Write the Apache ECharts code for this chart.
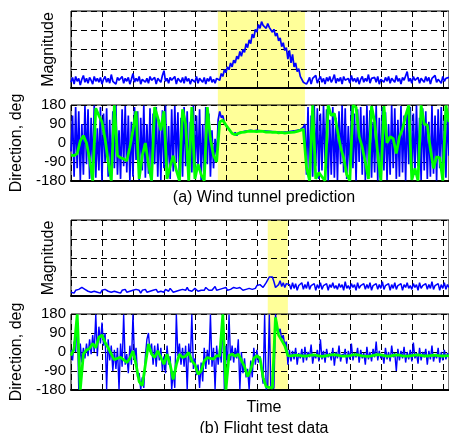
<!DOCTYPE html>
<html>
<head>
<meta charset="utf-8">
<script src="https://cdn.jsdelivr.net/npm/echarts@6/dist/echarts.min.js"></script>
<style>
html, body { margin: 0; padding: 0; background: #fff; }
#chart { width: 449px; height: 433px; }
</style>
</head>
<body>
<div id="chart"></div>
<script>
// time axis: 12 grid divisions, raw traces every 0.05, filtered traces every 0.1
const DT_RAW = 0.05;
const DT_FILT = 0.1;
const tMax = 12.2;

// (a) wind tunnel prediction
const magA = [
  0.3,0.55,0.2,0.6,0.35,0.5,0.15,0.45,0.65,0.3,
  0.5,0.25,0.55,0.4,0.2,0.6,0.35,0.5,0.3,0.55,
  0.2,0.45,0.6,0.3,0.5,0.25,0.7,0.35,0.45,0.2,
  0.55,0.4,0.3,0.6,0.25,0.5,0.35,0.55,0.2,0.45,
  0.75,0.3,0.5,0.35,0.6,0.2,0.45,0.55,0.3,0.5,
  0.25,0.6,0.4,0.3,0.55,0.2,0.5,0.45,0.3,0.65,
  0.9,0.35,0.5,0.25,0.55,0.4,0.3,0.6,0.2,0.5,
  0.45,0.3,0.55,0.25,0.6,0.35,0.5,0.2,0.45,0.55,
  0.3,0.6,0.25,0.5,0.4,0.3,0.55,0.2,0.5,0.35,
  0.6,0.3,0.45,0.25,0.5,
  0.55,0.4,0.75,0.6,0.95,0.8,1.1,0.95,1.3,1.1,
  1.45,1.3,1.65,1.5,1.9,1.65,2.0,1.85,2.3,2.1,
  2.5,2.3,2.8,2.6,3.05,2.9,3.3,3.1,3.45,3.25,
  3.35,3.1,3.35,3.15,3.2,2.9,3.05,2.7,2.85,2.45,
  2.6,2.15,2.35,1.95,2.1,1.5,1.95,1.3,1.75,1.1,
  1.3,0.85,1.0,0.6,0.7,0.3,0.4,0.2,
  0.35,0.55,0.2,0.5,0.4,0.65,0.25,0.45,0.6,0.3,
  0.5,0.2,0.55,0.35,0.6,0.3,0.45,0.7,0.25,0.5,
  0.35,0.55,0.2,0.6,0.4,0.3,0.5,0.25,0.65,0.35,
  0.5,0.3,0.55,0.2,0.45,0.6,0.3,0.5,0.35,0.7,
  0.25,0.5,0.4,0.55,0.3,0.6,0.2,0.45,0.5,0.3,
  0.55,0.35,0.6,0.25,0.5,0.4,0.3,0.65,0.35,0.5,
  0.2,0.55,0.4,0.3,0.85,0.35,0.5,0.25,0.6,0.4,
  0.3,0.55,0.25,0.5,0.45,0.3,0.6,0.35,0.55,0.2,
  0.5,0.4,0.65,0.3,0.45,0.55,0.25,0.6,0.35,0.5,
  0.4,0.55
];
const dirA = [
  -40,130,-160,170,-120,150,-175,90,-150,175,
  -100,160,-170,120,-140,178,-165,70,-130,170,
  -178,140,-90,165,-160,110,-175,150,-120,178,
  -150,60,-170,160,-110,175,-140,130,-178,100,
  -160,170,-80,150,-175,120,-130,178,-165,90,
  -145,165,-178,140,-100,170,-160,110,-175,155,
  -120,178,-150,80,-170,160,-135,175,-90,145,
  -178,120,-160,170,-110,150,-175,100,-140,178,
  -165,130,-120,160,-175,90,-150,170,-100,140,
  -160,60,-120,20,-70,
  110,150,120,130,95,100,75,80,55,60,
  40,50,35,48,40,52,45,55,50,58,
  52,60,54,58,52,60,53,58,52,57,
  50,56,49,55,48,54,47,53,46,52,
  45,51,44,52,46,53,47,55,49,57,
  52,60,55,63,58,75,90,-150,
  170,-175,130,-160,178,-110,165,-170,140,-130,
  175,-90,160,-178,110,-150,170,-165,120,-175,
  150,-100,178,-140,165,-170,80,-160,175,-120,
  140,-178,160,-90,170,-150,130,-175,178,-110,
  155,-165,100,-140,175,-178,120,-160,170,-130,
  145,-175,90,-150,178,-120,165,-170,110,-160,
  175,-140,130,-178,160,-100,170,-165,140,-150,
  178,-110,120,-175,165,-130,150,-170,100,-160,
  175,-145,130,-178,160,-120,170,-150,110,-165,
  140,-60
];
const dirAFiltered = [
  -57,-60,-50,10,35,0,-75,-178,165,130,
  100,20,-90,-178,178,-60,-70,-75,-85,-20,
  60,150,-170,-60,0,-100,-178,170,120,60,
  150,-170,-110,-60,-130,-178,160,90,-178,170,
  -170,-100,-150,-178,170,20,-60,-90,
  100,108,85,65,45,40,45,50,52,55,56,55,54,56,55,52,53,50,51,48,50,47,49,50,52,55,60,65,
  -115,-178,178,-170,-140,-160,-178,178,130,140,
  60,-20,-70,-150,-178,178,170,30,-20,-90,
  -170,175,100,-50,-178,175,0,30,20,-50,
  30,65,130,178,-175,-120,-178,178,90,85,
  -30,-120,-65,-70,-178,178,100
];

// (b) flight test data
const magB = [
  0.2,0.3,0.15,0.3,0.25,0.35,0.3,0.45,0.5,0.35,
  0.4,0.25,0.35,0.2,0.3,0.25,0.35,0.2,0.3,0.15,
  0.3,0.2,0.35,0.4,0.25,0.3,0.2,0.3,0.25,0.35,
  0.2,0.3,0.15,0.3,0.25,0.35,0.2,0.3,0.25,0.2,
  0.3,0.2,0.35,0.25,0.3,0.15,0.3,0.25,0.35,0.2,
  0.3,0.25,0.2,0.3,0.25,0.35,0.2,0.3,0.25,0.3,
  0.2,0.35,0.3,0.25,0.4,0.3,0.2,0.3,0.25,0.35,
  0.3,0.25,0.35,0.4,0.3,0.45,0.3,0.35,0.25,0.3,
  0.4,0.3,0.25,0.35,0.3,0.4,0.3,0.45,0.35,0.3,
  0.4,0.3,0.35,0.5,0.3,0.4,0.35,0.3,0.4,0.35,
  0.45,0.3,0.4,0.35,0.3,0.45,0.35,0.4,0.3,0.45,
  0.35,0.3,0.4,0.35,0.45,0.4,0.5,0.35,0.45,0.4,
  0.55,0.45,0.6,0.5,0.45,
  0.5,0.7,0.85,1.0,0.9,1.0,0.75,0.45,0.35,0.6,0.8,0.5,0.7,0.45,0.65,0.55,
  0.6,0.35,0.7,0.4,0.65,0.3,0.55,0.45,0.7,0.35,
  0.6,0.4,0.75,0.35,0.55,0.45,0.65,0.3,0.6,0.4,
  0.7,0.35,0.55,0.5,0.65,0.3,0.6,0.45,0.7,0.4,
  0.55,0.35,0.65,0.45,0.6,0.3,0.75,0.4,0.55,0.35,
  0.65,0.45,0.6,0.3,0.7,0.4,0.55,0.45,0.65,0.35,
  0.6,0.4,0.7,0.3,0.55,0.45,0.65,0.35,0.6,0.4,
  0.75,0.35,0.55,0.45,0.65,0.3,0.6,0.4,0.7,0.35,
  0.55,0.5,0.65,0.3,0.6,0.45,0.7,0.4,0.55,0.35,
  0.65,0.45,0.6,0.3,0.7,0.4,0.55,0.45,0.65,0.35,
  0.6,0.4,0.75,0.35,0.55,0.45,0.65,0.3,0.6,0.4,
  0.7,0.35,0.6,0.45
];
const dirB = [
  10,-40,50,0,178,-178,40,-50,20,-30,
  40,-20,60,-10,80,0,178,-20,120,40,
  140,30,90,-178,60,-40,30,-90,10,-80,
  20,-178,40,-70,178,-60,-10,-100,30,-60,
  178,-30,20,-120,-100,-178,-120,-170,-20,60,
  90,0,40,-60,30,-70,40,-40,20,-90,
  -20,-100,30,-60,-20,-178,-90,-170,178,-20,
  40,-60,20,-70,30,-178,40,-50,178,-80,
  -30,-110,-60,-170,-50,-140,20,-80,10,-60,
  178,-70,20,-178,30,-60,20,-50,178,-178,
  30,-60,178,-40,30,-50,20,-30,60,-178,
  0,-100,-30,-120,-80,-178,-40,-120,20,-60,
  10,-50,-20,-90,-150,
  178,-178,-160,178,-170,-165,-172,178,120,90,110,60,80,30,50,-60,
  10,-45,5,-35,20,-60,-5,-30,15,-50,
  25,-40,0,-25,35,-55,-10,-30,10,-45,
  60,-35,5,-50,15,-25,-5,-40,20,-65,
  0,-30,30,-45,-10,-20,15,-55,5,-35,
  40,-40,-5,-25,20,-50,10,-30,-5,-60,
  25,-35,0,-45,15,-25,50,-40,5,-30,
  -10,-55,20,-35,0,-45,30,-25,-5,-90,
  15,-40,5,-30,25,-50,0,-35,10,-45,
  45,-30,-5,-55,20,-40,0,-25,15,-60,
  5,-35,30,-45,-10,-30,20,-50,0,-40,
  10,-35,-5,-25
];
const dirBFiltered = [
  -17,15,178,-178,-10,10,17,40,20,70,
  80,45,20,-10,-37,-30,-25,-37,-50,-30,
  5,-60,-140,-160,-60,38,-10,-26,5,-26,
  -58,-10,-60,-130,-60,-10,-26,-20,-2,-42,
  -60,-105,-90,-42,-26,-30,-34,-17,-20,178,
  -178,-17,-10,-20,-10,-40,-69,-116,-84,-30,
  -17,-30,-120,-165,-168,-170,164,80,55,30,
  -17,
  -18,-16,-15,-17,-20,-19,-16,-14,-15,-18,
  -21,-19,-16,-14,-13,-15,-18,-20,-19,-17,
  -14,-13,-15,-18,-20,-21,-18,-15,-13,-14,
  -17,-20,-19,-16,-14,-15,-18,-20,-19,-17,
  -15,-14,-16,-18,-19,-17,-15,-16,-18,-19,
  -18,-17
];

// highlighted time windows
const bandA = [4.74, 7.55];
const bandB = [6.35, 7.0];

const magRange = [0, 4];
const dirRange = [-180, 180];

const font = '"Liberation Sans", Arial, sans-serif';
const dash = [6, 4];
const blue = '#0000ff';
const blueInBand = '#4848cc';
const green = '#00ff00';

const toXY = (arr, dt) => arr.map((v, i) => [+(i * dt).toFixed(2), v]);

const gridTops = [11, 105, 220, 314];
const gridHeights = [77, 76, 76, 76];

const chart = echarts.init(document.getElementById('chart'));

const seriesDefs = [
  { data: toXY(magA, DT_RAW), axis: 0, color: blue, width: 1.7, band: bandA },
  { data: toXY(dirA, DT_RAW), axis: 1, color: blue, width: 1.7, band: bandA },
  { data: toXY(dirAFiltered, DT_FILT), axis: 1, color: green, width: 2.8 },
  { data: toXY(magB, DT_RAW), axis: 2, color: blue, width: 1.5, band: bandB },
  { data: toXY(dirB, DT_RAW), axis: 3, color: blue, width: 1.4, band: bandB },
  { data: toXY(dirBFiltered, DT_FILT), axis: 3, color: green, width: 2.8 }
];

const option = {
  animation: false,
  grid: gridTops.map((t, i) => ({
    left: 71, width: 379, top: t, height: gridHeights[i],
    show: true, borderColor: '#000', borderWidth: 1
  })),
  xAxis: gridTops.map((t, i) => ({
    gridIndex: i,
    type: 'value',
    min: 0,
    max: tMax,
    interval: 1,
    axisLabel: { show: false },
    axisTick: { show: false },
    axisLine: { show: true, onZero: false, lineStyle: { color: '#000', width: 2 } },
    splitLine: { show: true, lineStyle: { color: '#000', type: dash } }
  })),
  yAxis: gridTops.map((t, i) => {
    const isMag = i % 2 === 0;
    return {
      gridIndex: i,
      type: 'value',
      min: isMag ? magRange[0] : dirRange[0],
      max: isMag ? magRange[1] : dirRange[1],
      interval: isMag ? 1 : 90,
      name: isMag ? 'Magnitude' : 'Direction, deg',
      nameLocation: 'middle',
      nameGap: isMag ? 14 : 46,
      nameTextStyle: { fontSize: 16, color: '#000', fontFamily: font },
      axisLine: { show: false },
      axisTick: { show: false },
      axisLabel: {
        show: !isMag, fontSize: 15, color: '#000', fontFamily: font, margin: 5
      },
      splitLine: { show: true, lineStyle: { color: '#000', type: dash } }
    };
  }),
  // raw traces look paler where they sit under the yellow window
  visualMap: seriesDefs.map((s, i) => s.band ? {
    type: 'piecewise', show: false, seriesIndex: i, dimension: 0,
    pieces: [
      { lt: s.band[0], color: blue },
      { gte: s.band[0], lte: s.band[1], color: blueInBand },
      { gt: s.band[1], color: blue }
    ]
  } : null).filter(v => v),
  series: seriesDefs.map(s => ({
    type: 'line',
    xAxisIndex: s.axis,
    yAxisIndex: s.axis,
    data: s.data,
    showSymbol: false,
    symbol: 'none',
    lineStyle: { color: s.color, width: s.width },
    itemStyle: { color: s.color }
  }))
};
chart.setOption(option);

// yellow windows span both panels of a pair
function bandRect(band, topIdx, botIdx) {
  const x0 = chart.convertToPixel({ xAxisIndex: topIdx }, band[0]);
  const x1 = chart.convertToPixel({ xAxisIndex: topIdx }, band[1]);
  const y0 = chart.convertToPixel({ yAxisIndex: topIdx }, magRange[1]);
  const y1 = chart.convertToPixel({ yAxisIndex: botIdx }, dirRange[0]);
  return {
    type: 'rect', silent: true, z: -1,
    shape: { x: x0, y: y0, width: x1 - x0, height: y1 - y0 },
    style: { fill: '#ffff99' }
  };
}
function label(text, y) {
  return {
    type: 'text', x: 264, y: y, z: 101,
    style: { text: text, fontSize: 16, fontFamily: font, fill: '#000', align: 'center', verticalAlign: 'middle' }
  };
}
chart.setOption({
  graphic: [
    bandRect(bandA, 0, 1),
    bandRect(bandB, 2, 3),
    label('(a) Wind tunnel prediction', 198),
    label('Time', 408),
    label('(b) Flight test data', 429)
  ]
});
</script>
</body>
</html>
